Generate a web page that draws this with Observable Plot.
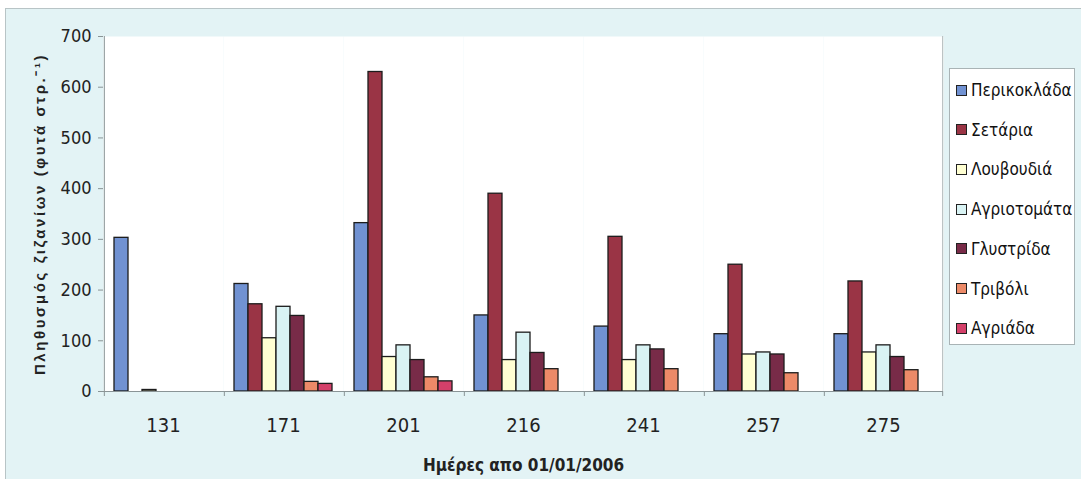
<!DOCTYPE html>
<html>
<head>
<meta charset="utf-8">
<script src="https://cdn.jsdelivr.net/npm/d3@7"></script>
<script src="https://cdn.jsdelivr.net/npm/@observablehq/plot@0.6"></script>
<style>
  html, body { margin: 0; padding: 0; background: #ffffff; }
  #wrap { position: relative; width: 1081px; height: 479px; overflow: hidden; background: #ffffff; }
  #bg { position: absolute; left: 5px; top: 8px; right: -2px; bottom: -2px; background: #e3f3f5; border: 1px solid #b8c4c6; }
  #chart { position: absolute; left: 0; top: 0; }
  #chart svg { font-family: "Liberation Sans Narrow", "DejaVu Sans Condensed", "Arial Narrow", "Liberation Sans", sans-serif; font-stretch: condensed; }
  #chart g[aria-label="y-axis label"] text { font-family: "Liberation Sans", Arial, sans-serif; font-stretch: normal; font-weight: bold; letter-spacing: 2.6px; font-size: 15px; }
  #chart g[aria-label="fx-axis label"] text { font-weight: bold; font-size: 17px; }
  #legend { position: absolute; left: 949px; top: 68px; width: 126px; height: 277px; background: #ffffff; border: 1px solid #a9b3b5; box-sizing: border-box;
            font-family: "Liberation Sans Narrow", "DejaVu Sans Condensed", "Arial Narrow", "Liberation Sans", sans-serif; font-stretch: condensed; font-size: 17px; color: #111; }
  .item { position: absolute; left: 6px; display: flex; align-items: center; white-space: nowrap; }
  .sw { width: 9px; height: 9px; border: 1px solid #222; margin-right: 4px; box-sizing: content-box; }
</style>
</head>
<body>
<div id="wrap">
  <div id="bg"></div>
  <div id="chart"></div>
  <div id="legend"></div>
</div>
<script>
// ---- data ----
const days = ["131", "171", "201", "216", "241", "257", "275"];
const seriesNames = ["Περικοκλάδα", "Σετάρια", "Λουβουδιά", "Αγριοτομάτα", "Γλυστρίδα", "Τριβόλι", "Αγριάδα"];
const seriesColors = ["#7192d2", "#9a3445", "#ffffd2", "#d9f3f4", "#782b48", "#ec8a68", "#d4406a"];
const perikoklada = [303, 212, 332, 150, 128, 113, 113];
const setaria     = [0, 172, 630, 390, 305, 250, 217];
const louvoudia   = [3, 105, 68, 62, 62, 73, 77];
const agriotomata = [0, 167, 91, 116, 91, 77, 91];
const glystrida   = [0, 149, 62, 76, 83, 73, 68];
const trivoli     = [0, 19, 28, 44, 44, 36, 42];
const agriada     = [0, 15, 20, 0, 0, 0, 0];
const yTicks = [0, 100, 200, 300, 400, 500, 600, 700];
const xTitle = "Ημέρες απο 01/01/2006";
const yTitle = "Πληθυσμός ζιζανίων (φυτά στρ.⁻¹)";

const seriesValues = [perikoklada, setaria, louvoudia, agriotomata, glystrida, trivoli, agriada];
const table = [];
days.forEach((d, i) => seriesNames.forEach((s, j) => table.push({day: d, series: s, value: seriesValues[j][i]})));

// ---- layout ----
const W = 1081, H = 479, ML = 102, MR = 138, MT = 36, MB = 88;
const xPadOuter = 0.7;
const facetW = (W - ML - MR) / days.length;
const step = facetW / (seriesNames.length + 2 * xPadOuter);
const edge = xPadOuter * step + step / 2;

const firstSeries = seriesNames[0], lastSeries = seriesNames[seriesNames.length - 1];
const leftEdges = days.map(d => ({day: d}));
const lastDay = [{day: days[days.length - 1]}];
const firstDay = [{day: days[0]}];

const chart = Plot.plot({
  width: W, height: H,
  marginLeft: ML, marginRight: MR, marginTop: MT, marginBottom: MB,
  style: {background: "transparent", fontSize: "18px", color: "#222"},
  fx: {domain: days, paddingInner: 0, paddingOuter: 0, label: null},
  x: {domain: seriesNames, paddingInner: 0, paddingOuter: xPadOuter, axis: null},
  y: {domain: [0, 700], axis: null},
  color: {domain: seriesNames, range: seriesColors},
  marks: [
    Plot.frame({fill: "white", stroke: "none"}),
    Plot.barY(table, {fx: "day", x: "series", y: "value", fill: "series", stroke: "#1c1c1c", strokeWidth: 1.3}),
    // x-axis baseline
    Plot.ruleY([0], {stroke: "#8a9496", strokeWidth: 1}),
    // group boundary ticks
    Plot.ruleX(leftEdges, {fx: "day", x: () => firstSeries, y: 0, dx: -edge, stroke: "#8a9496", strokeWidth: 1, insetBottom: -5}),
    Plot.ruleX(lastDay, {fx: "day", x: () => lastSeries, y: 0, dx: edge, stroke: "#8a9496", strokeWidth: 1, insetBottom: -5}),
    // left axis line and right border
    Plot.ruleX(firstDay, {fx: "day", x: () => firstSeries, y1: 0, y2: 700, dx: -edge, stroke: "#8a9496", strokeWidth: 1}),
    Plot.ruleX(lastDay, {fx: "day", x: () => lastSeries, y1: 0, y2: 700, dx: edge, stroke: "#b0b8ba", strokeWidth: 1}),
    Plot.axisY({ticks: yTicks, tickSize: 5, tickPadding: 7, fontSize: 18, stroke: "#8a9496", fill: "#222",
                label: yTitle, labelAnchor: "center", labelOffset: 69, labelArrow: false}),
    Plot.axisFx({anchor: "bottom", tickSize: 0, tickPadding: 26, fontSize: 20, fill: "#222",
                 label: xTitle, labelAnchor: "center", labelOffset: 79, labelArrow: false})
  ]
});
document.getElementById("chart").appendChild(chart);

// ---- legend ----
const legend = document.getElementById("legend");
seriesNames.forEach((s, j) => {
  const it = document.createElement("div");
  it.className = "item";
  it.style.top = (11 + j * 39.7) + "px";
  const sw = document.createElement("span");
  sw.className = "sw";
  sw.style.background = seriesColors[j];
  const tx = document.createElement("span");
  tx.textContent = s;
  it.appendChild(sw); it.appendChild(tx);
  legend.appendChild(it);
});
</script>
</body>
</html>
